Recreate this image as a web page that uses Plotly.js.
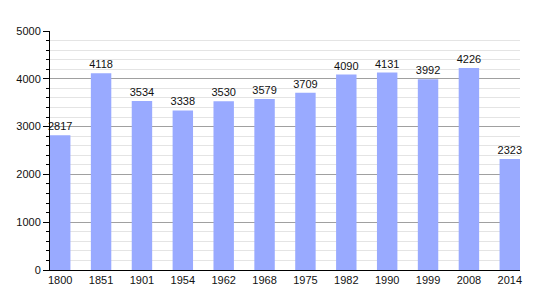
<!DOCTYPE html>
<html><head><meta charset="utf-8">
<script src="https://cdn.plot.ly/plotly-3.0.1.min.js"></script>
<style>html,body{margin:0;padding:0;background:#fff}</style>
</head><body><div id="chart" style="width:550px;height:300px"></div>
<script>
const years = ["1800","1851","1901","1954","1962","1968","1975","1982","1990","1999","2008","2014"];
const population = [2817,4118,3534,3338,3530,3579,3709,4090,4131,3992,4226,2323];

Plotly.newPlot('chart', [{
  type: 'bar',
  x: years,
  y: population,
  width: 0.5,
  marker: {color: '#99aaff'},
  text: population.map(String),
  textposition: 'outside',
  constraintext: 'none',
  cliponaxis: false,
  textfont: {family: 'Liberation Sans, Arial, sans-serif', size: 11, color: '#111'},
  hoverinfo: 'none'
}], {
  width: 550, height: 300,
  margin: {l: 50, r: 30, t: 31, b: 30},
  paper_bgcolor: '#fff', plot_bgcolor: '#fff',
  showlegend: false,
  font: {family: 'Liberation Sans, Arial, sans-serif', size: 11, color: '#111'},
  xaxis: {
    type: 'category',
    range: [-0.25, 11.25],
    showline: true, linecolor: '#000', linewidth: 1,
    ticks: '', showgrid: false, zeroline: false,
    tickfont: {size: 11, color: '#111'}
  },
  yaxis: {
    range: [0, 5000],
    dtick: 1000,
    showline: true, linecolor: '#000', linewidth: 1,
    ticks: 'outside', ticklen: 6, tickcolor: '#000',
    showgrid: true, gridcolor: '#a0a0a0', gridwidth: 1,
    zeroline: false,
    tickfont: {size: 11, color: '#111'},
    minor: {dtick: 200, showgrid: true, gridcolor: '#e4e4e4', ticks: 'outside', ticklen: 3, tickcolor: '#000'}
  },
  bargap: 0.5
}, {staticPlot: true});
</script></body></html>
